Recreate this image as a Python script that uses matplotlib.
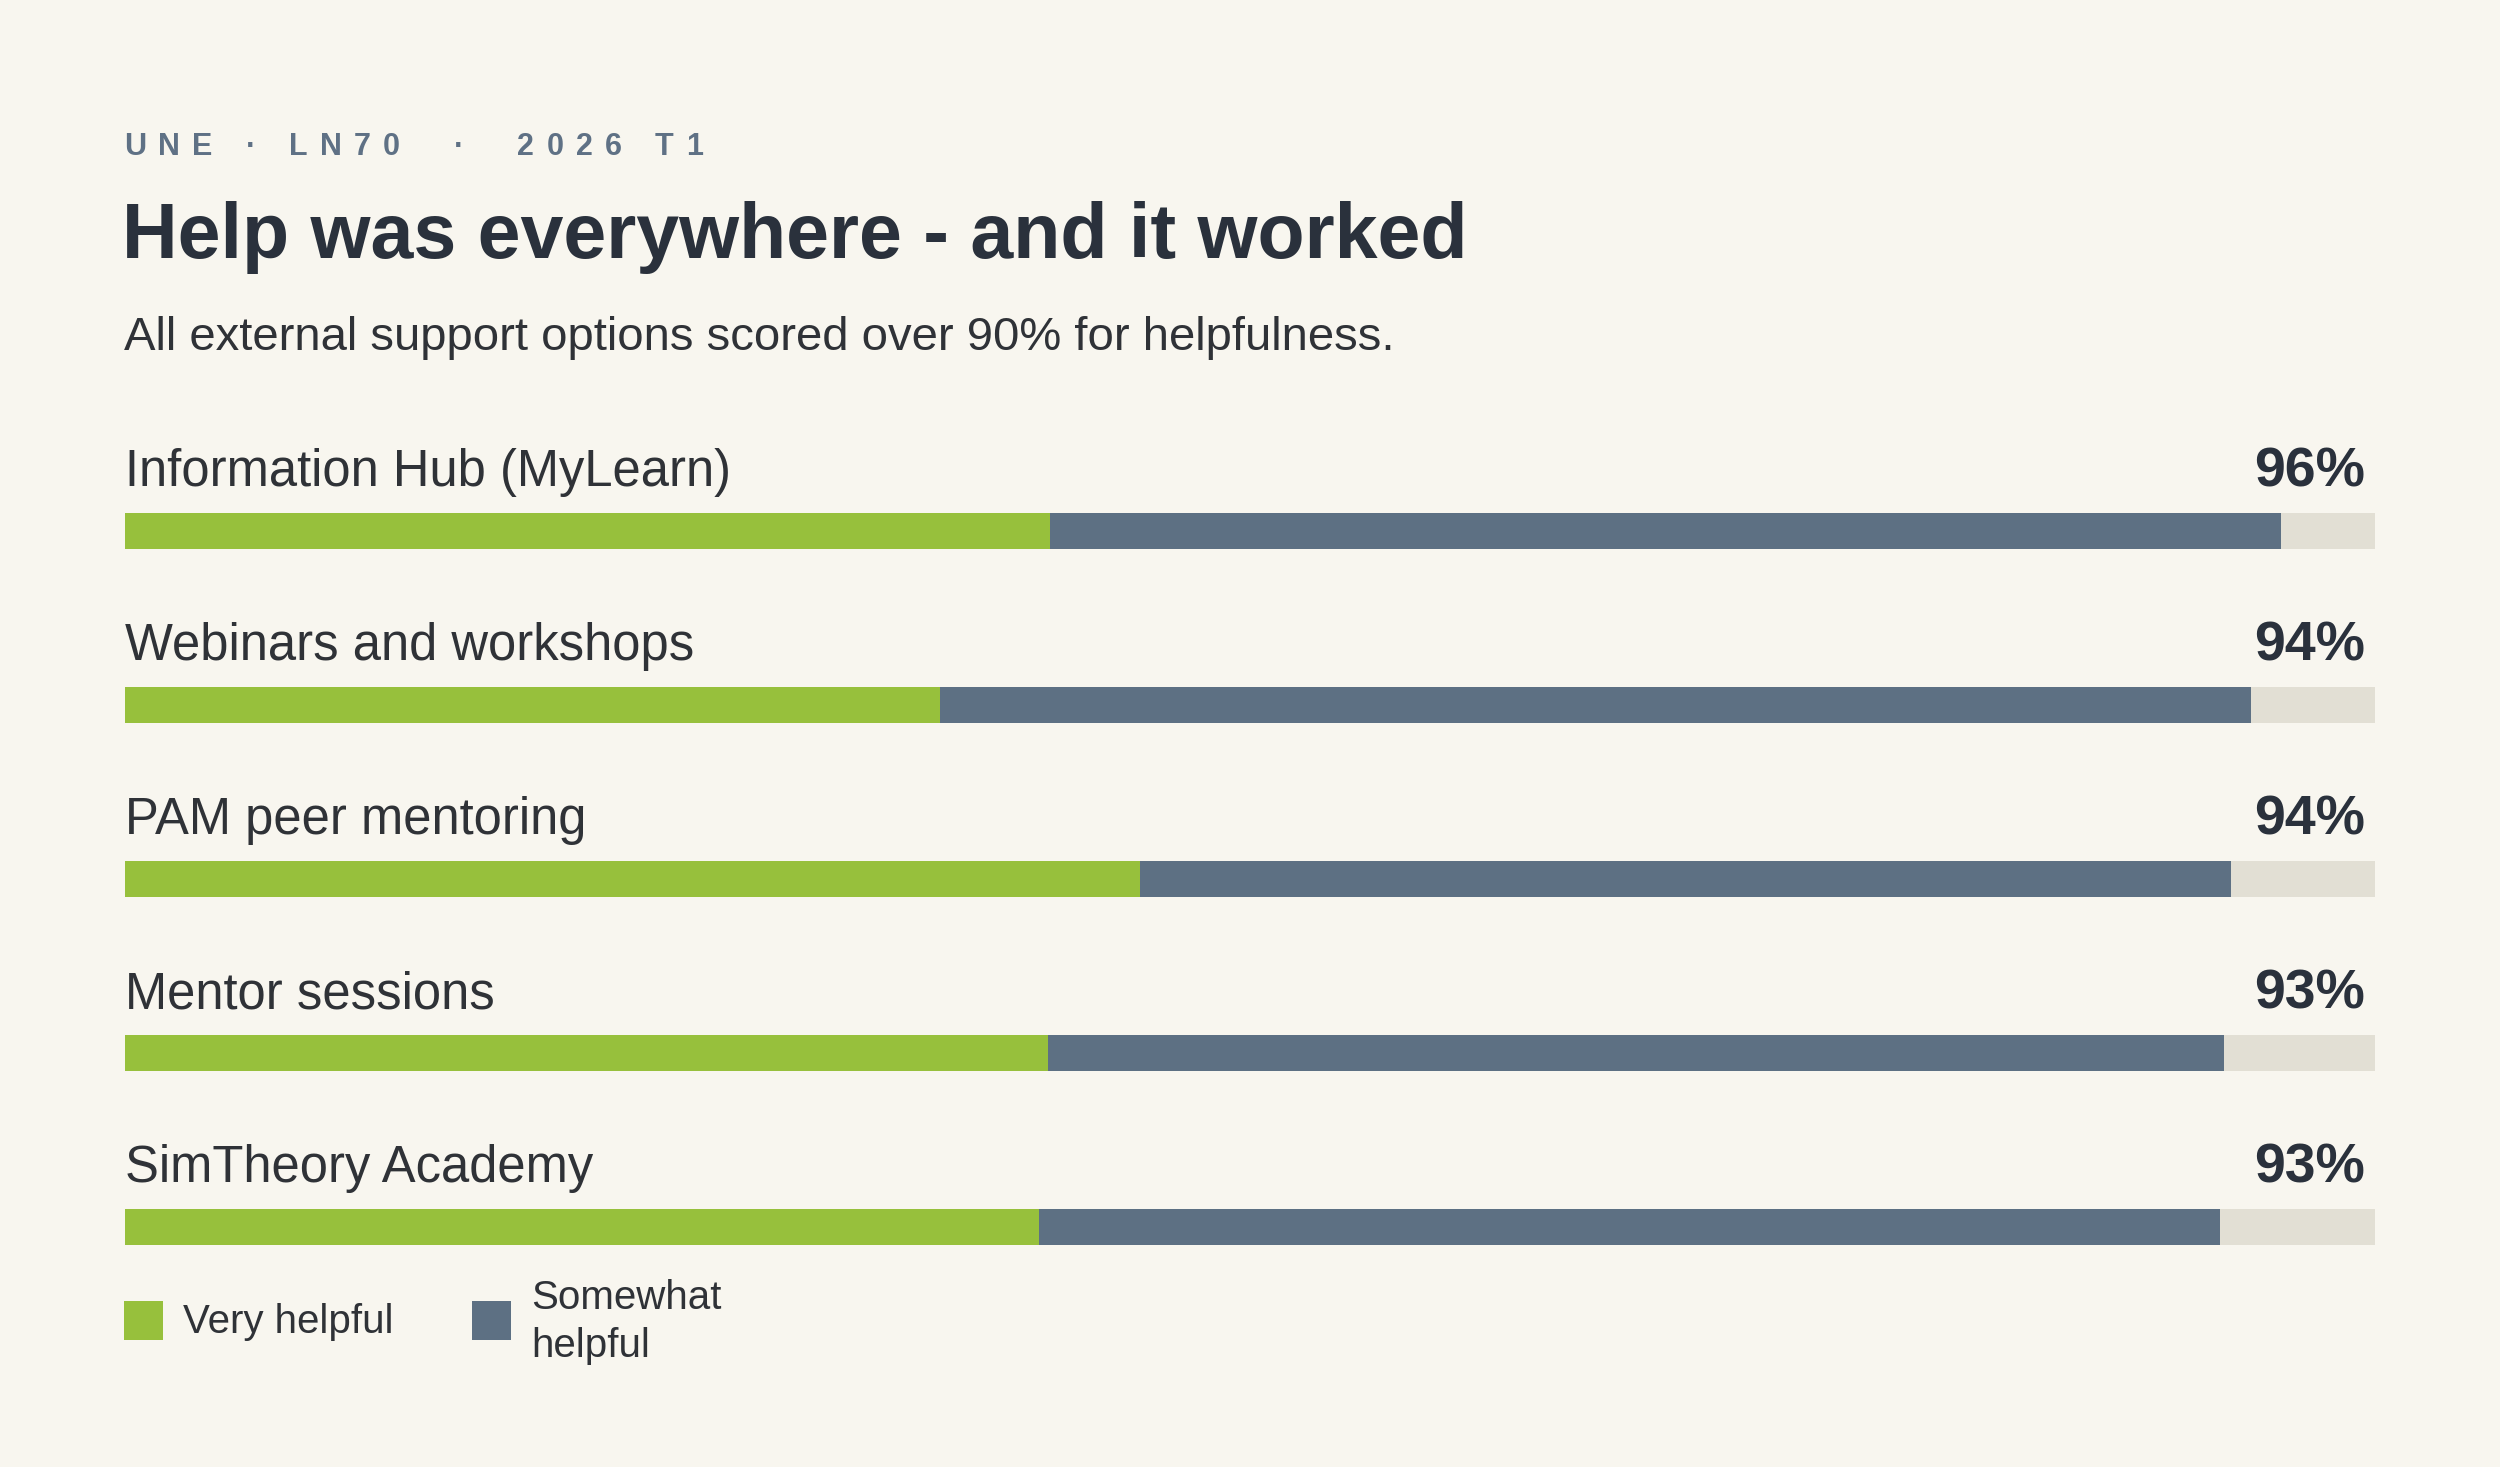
import matplotlib
matplotlib.use("Agg")
import matplotlib.pyplot as plt
from matplotlib.patches import Rectangle

plt.rcParams['font.family'] = ['Liberation Sans', 'DejaVu Sans']

# ---- data ----
categories = ["Information Hub (MyLearn)", "Webinars and workshops", "PAM peer mentoring",
              "Mentor sessions", "SimTheory Academy"]
very_helpful = [41.1, 36.2, 45.1, 41.0, 40.6]
somewhat_helpful = [54.7, 58.3, 48.5, 52.3, 52.5]
total_labels = ["96%", "94%", "94%", "93%", "93%"]
series_names = ["Very helpful", "Somewhat\nhelpful"]

eyebrow = "UNE · LN70  ·  2026 T1"
title = "Help was everywhere - and it worked"
subtitle = "All external support options scored over 90% for helpfulness."

# ---- style ----
BG = "#f8f6ef"
GREEN = "#97c03c"
SLATE = "#5d7083"
TRACK = "#e2dfd4"
DARK = "#2a313c"
TEXT = "#2f3237"
EYEBROW = "#5f7185"

W, H = 2500, 1467
DPI = 100
fig = plt.figure(figsize=(W / DPI, H / DPI), dpi=DPI, facecolor=BG)

def fy(px):
    return 1 - px / H

def fx(px):
    return px / W

# eyebrow with letter spacing
renderer = fig.canvas.get_renderer()
x = 124
fs_eb = 22
track_px = 12.2
for ch in eyebrow:
    if ch == " ":
        x += fs_eb * 0.28 * DPI / 72 + track_px
        continue
    t = fig.text(fx(x), fy(147), ch, fontsize=fs_eb, fontweight="bold", color=EYEBROW,
                 ha="left", va="center")
    bb = t.get_window_extent(renderer=renderer)
    x += bb.width + track_px

fig.text(fx(122), fy(237), title, fontsize=55.5, fontweight="bold", color=DARK,
         ha="left", va="center")
fig.text(fx(124), fy(338), subtitle, fontsize=34, color=TEXT, ha="left", va="center")

# bars axes
step = 174.0
first_center = 531.0
ax_top = first_center - 0.8 * step
ax_h = 5 * step
ax = fig.add_axes([0.05, fy(ax_top + ax_h), 0.90, ax_h / H])
ax.set_facecolor("none")
ax.set_xlim(0, 100)
ax.set_ylim(4.2, -0.8)
ax.axis("off")

n = len(categories)
ys = list(range(n))
bh = 36 / step
ax.barh(ys, [100] * n, height=bh, color=TRACK, linewidth=0)
ax.barh(ys, very_helpful, height=bh, color=GREEN, linewidth=0)
ax.barh(ys, somewhat_helpful, left=very_helpful, height=bh, color=SLATE, linewidth=0)

label_off = 58 / step
for i, (cat, lab) in enumerate(zip(categories, total_labels)):
    ax.text(0, i - label_off, cat, fontsize=36.5, color=TEXT, ha="left", va="center")
    ax.text(99.55, i - label_off, lab, fontsize=40, fontweight="bold", color=DARK,
            ha="right", va="center")

# legend
sq = 39
for (x0, txt_x, col, name, ty) in [(124, 183, GREEN, series_names[0], 1322),
                                    (472, 531, SLATE, series_names[1], 1322)]:
    fig.patches.append(Rectangle((fx(x0), fy(1301 + sq)), sq / W, sq / H,
                                 transform=fig.transFigure, color=col, linewidth=0))
    fig.text(fx(txt_x), fy(ty), name, fontsize=29, color=TEXT, ha="left", va="center",
             linespacing=1.33)

fig.savefig("out.png", dpi=DPI, facecolor=BG)
